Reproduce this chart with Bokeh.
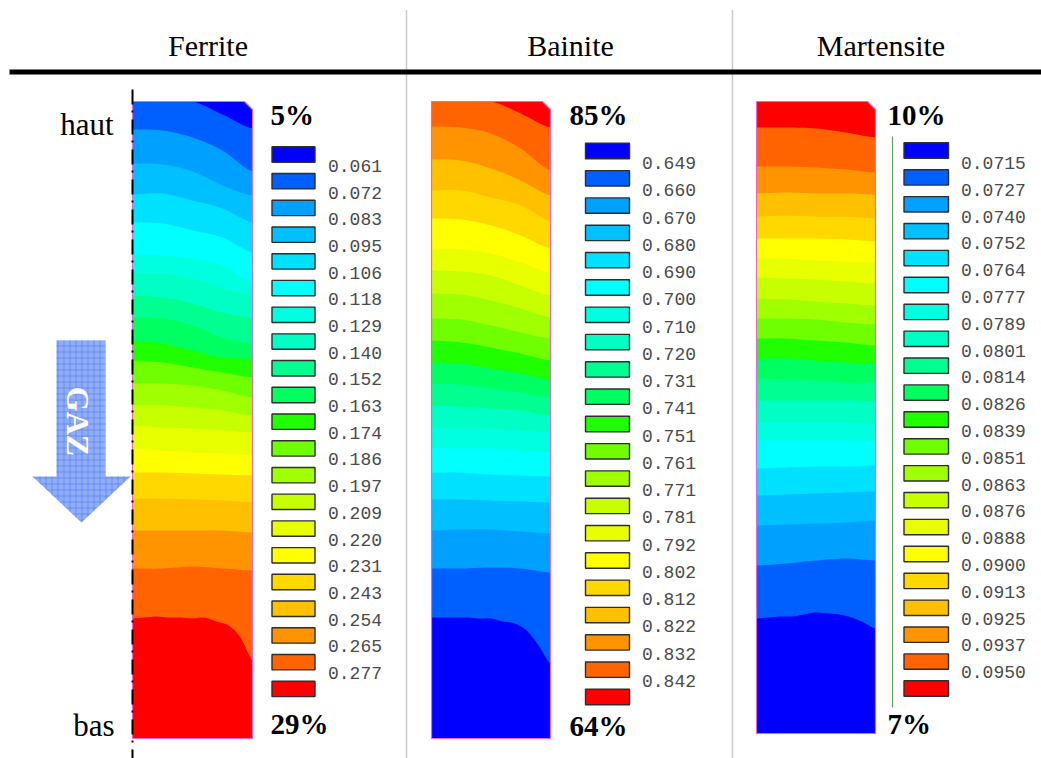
import math
from bokeh.plotting import figure
from bokeh.models import Range1d
from bokeh.core.properties import value
from bokeh.embed import file_html
from bokeh.resources import INLINE

# Colour scale, low to high (one swatch per level)
scale_colors = ["#0000ff", "#0060ff", "#00a0ff", "#00c0ff", "#00e0ff", "#00ffff", "#00ffe0",
                "#00ffc4", "#00ff90", "#00ff60", "#20ff00", "#70ff00", "#a0ff00", "#c8ff00",
                "#e8ff00", "#ffff00", "#ffd800", "#ffc000", "#ff9400", "#ff6400", "#ff0000"]

phases = ["Ferrite", "Bainite", "Martensite"]
ferrite_levels = ["0.061", "0.072", "0.083", "0.095", "0.106", "0.118", "0.129", "0.140", "0.152", "0.163",
                  "0.174", "0.186", "0.197", "0.209", "0.220", "0.231", "0.243", "0.254", "0.265", "0.277"]
bainite_levels = ["0.649", "0.660", "0.670", "0.680", "0.690", "0.700", "0.710", "0.720", "0.731", "0.741",
                  "0.751", "0.761", "0.771", "0.781", "0.792", "0.802", "0.812", "0.822", "0.832", "0.842"]
martensite_levels = ["0.0715", "0.0727", "0.0740", "0.0752", "0.0764", "0.0777", "0.0789", "0.0801", "0.0814", "0.0826",
                     "0.0839", "0.0851", "0.0863", "0.0876", "0.0888", "0.0900", "0.0913", "0.0925", "0.0937", "0.0950"]

# Contour fronts, from top of the section to its bottom (page position down the section)
ferrite_fronts = [
    [101, 101, 101, 114, 128], [129, 130, 137, 150, 171], [163, 164, 171, 185, 195], [194, 193, 200, 208, 222],
    [222, 223, 230, 237, 252], [255, 255, 258, 265, 282], [273, 273, 278, 287, 295], [295, 297, 303, 312, 317],
    [317, 318, 325, 337, 343], [340, 343, 350, 357, 358], [360, 362, 367, 372, 377], [383, 383, 385, 390, 397],
    [405, 405, 407, 410, 415], [425, 427, 428, 430, 432], [448, 450, 452, 453, 455], [472, 472, 473, 474, 475],
    [498, 498, 499, 500, 502], [530, 530, 530, 530, 532], [568, 568, 566, 568, 570],
    [618, 617, 616, 617, 617, 618, 617, 621, 625, 637, 660]]
bainite_fronts = [
    [101, 101, 101, 113, 127], [126, 127, 133, 148, 170], [159, 160, 168, 180, 195], [190, 190, 197, 205, 221],
    [218, 219, 225, 235, 248], [248, 249, 253, 262, 272], [270, 271, 275, 285, 295], [293, 294, 300, 308, 317],
    [318, 319, 325, 332, 338], [340, 342, 347, 353, 360], [362, 363, 368, 373, 379], [383, 384, 388, 392, 397],
    [405, 406, 408, 410, 415], [427, 428, 428, 430, 432], [448, 448, 448, 450, 452], [472, 472, 474, 475, 476],
    [499, 499, 500, 501, 502], [530, 529, 529, 531, 533], [568, 568, 567, 568, 572],
    [617, 617, 617, 617, 618, 618, 621, 623, 630, 645, 663]]
martensite_fronts = [
    [127, 127, 128, 132, 137], [166, 166, 167, 169, 172], [193, 192, 193, 193, 194], [216, 215, 216, 216, 218],
    [238, 238, 238, 239, 241], [258, 258, 260, 261, 262], [277, 278, 279, 281, 283], [298, 299, 301, 303, 305],
    [318, 318, 319, 322, 324], [338, 338, 340, 342, 345], [358, 358, 360, 362, 363], [378, 379, 380, 382, 382],
    [400, 400, 400, 400, 401], [422, 422, 422, 422, 423], [440, 440, 440, 440, 441], [468, 467, 466, 466, 465],
    [495, 494, 493, 492, 491], [525, 524, 523, 522, 520], [565, 563, 560, 558, 560],
    [618, 617, 616, 616, 614, 612, 613, 614, 617, 622, 628]]

top_percent = ["5%", "85%", "10%"]
bottom_percent = ["29%", "64%", "7%"]

SERIF = value("Liberation Serif")
MONO = value("Liberation Mono")

p = figure(width=1041, height=758, x_range=Range1d(0, 1041), y_range=Range1d(758, 0),
           output_backend="svg", toolbar_location=None, min_border=0, outline_line_color=None)
p.xaxis.visible = False
p.yaxis.visible = False
p.grid.visible = False
p.background_fill_color = "#ffffff"
p.border_fill_color = "#ffffff"


def smooth(xs, ys, steps=8):
    """Draw a front as a rounded curve through the values that were read."""
    out_x, out_y = [], []
    n = len(xs)
    for i in range(n - 1):
        y0, y1, y2, y3 = ys[max(i - 1, 0)], ys[i], ys[i + 1], ys[min(i + 2, n - 1)]
        for s in range(steps):
            t = s / steps
            out_x.append(xs[i] + (xs[i + 1] - xs[i]) * t)
            out_y.append(0.5 * (2 * y1 + (y2 - y0) * t + (2 * y0 - 5 * y1 + 4 * y2 - y3) * t * t
                                + (3 * y1 - y0 - 3 * y2 + y3) * t * t * t))
    out_x.append(xs[-1])
    out_y.append(ys[-1])
    return out_x, out_y


def draw_panel(fronts, colors, x0, x1, top, bottom):
    w = x1 - x0
    outline_x = [x0, x1 - 8, x1, x1, x0, x0]
    outline_y = [top, top, top + 8, bottom, bottom, top]
    p.patch(outline_x, outline_y, fill_color=colors[0], line_color=None)
    for k, front in enumerate(fronts):
        xs = [x0 + w * i / (len(front) - 1) for i in range(len(front))]
        cx, cy = smooth(xs, front)
        cy = [max(v, top) for v in cy]
        p.patch(cx + [x1, x0], cy + [bottom, bottom], fill_color=colors[k + 1], line_color=None)
    p.line(outline_x, outline_y, line_color="#e468d8", line_width=1.2)


def draw_legend(levels, sw_x0, sw_x1, first_y, step, label_x, label_y, label_step):
    for i, c in enumerate(scale_colors):
        yc = first_y + step * i
        p.quad(left=sw_x0, right=sw_x1, top=yc - 7.7, bottom=yc + 7.7, fill_color=c,
               line_color="#2e2e2e", line_width=1.4)
    ys = [label_y + label_step * i for i in range(len(levels))]
    p.text(x=[label_x] * len(levels), y=ys, text=levels, text_font=MONO, text_font_size="18px",
           text_color="#4a4a4a", text_align="left", text_baseline="middle")


# Panels
draw_panel(ferrite_fronts, scale_colors, 132, 252, 101, 738)
draw_panel(bainite_fronts, scale_colors[::-1], 431, 550, 101, 738)
draw_panel(martensite_fronts, scale_colors[::-1], 756, 875, 101, 733)

# Legends
draw_legend(ferrite_levels, 271.5, 314.5, 154, 26.72, 327.5, 165.5, 26.68)
draw_legend(bainite_levels, 585, 629, 150.5, 27.3, 641.5, 162.5, 27.26)
draw_legend(martensite_levels, 903.5, 948, 150, 26.9, 960.5, 162.5, 26.8)
p.quad(left=1027.5, right=1041, top=130, bottom=700, fill_color="#ffffff", line_color=None)

# Green rule next to the Martensite legend
p.line([892, 892], [136, 707], line_color="#5f9f5f", line_width=1.2)

# Dotted separators and header rule
for sx in (406, 732):
    p.line([sx, sx], [10, 758], line_color="#9a9a9a", line_width=1.5, line_dash="1 1")
p.quad(left=9, right=1041, top=69, bottom=74, fill_color="#000000", line_color=None)

# Symmetry axis
p.line([132, 132], [89, 758], line_color="#000000", line_width=2, line_dash="15 6 2 7")

# Gas arrow
arrow_x = [56, 105, 105, 130, 81, 32, 56, 56]
arrow_y = [340, 340, 476, 476, 522, 476, 476, 340]
p.patch(arrow_x, arrow_y, fill_color="#90adf8", line_color=None, hatch_pattern="cross",
        hatch_color="#5f86f2", hatch_scale=6, hatch_weight=1, hatch_alpha=0.8)
p.text(x=[77], y=[421], text=["GAZ"], angle=[-math.pi / 2], text_font=SERIF, text_font_style="bold",
       text_font_size="32px", text_color="#ffffff", text_align="center", text_baseline="middle")

# Headers
p.text(x=[207.5, 570, 880.5], y=[44.5, 44.5, 44.5], text=phases, text_font=SERIF, text_font_size="30px",
       text_color="#000000", text_align="center", text_baseline="middle")

# Side labels
p.text(x=[113, 114], y=[124, 725], text=["haut", "bas"], text_font=SERIF, text_font_size="31px",
       text_color="#000000", text_align="right", text_baseline="middle")

# Percentages
p.text(x=[270, 569, 887], y=[114, 114, 114], text=top_percent, text_font=SERIF, text_font_style="bold",
       text_font_size="29px", text_color="#000000", text_align="left", text_baseline="middle")
p.text(x=[270, 569, 887], y=[723.5, 725.5, 723.5], text=bottom_percent, text_font=SERIF, text_font_style="bold",
       text_font_size="29px", text_color="#000000", text_align="left", text_baseline="middle")

open("out.html", "w").write(file_html(p, INLINE))
